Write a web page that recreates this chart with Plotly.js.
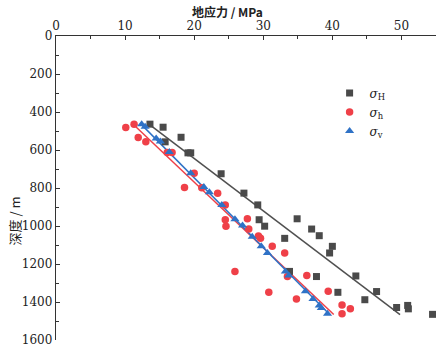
<!DOCTYPE html>
<html>
<head>
<meta charset="utf-8">
<script src="https://cdn.plot.ly/plotly-3.0.1.min.js"></script>
<style>html,body{margin:0;padding:0;background:#fff;}#chart{width:444px;height:352px;}</style>
</head>
<body>
<div id="chart"></div>
<script>
// σH (maximum horizontal stress), MPa vs depth, m
const sigmaH_x = [13.6,15.5,18.1,15.8,19.1,19.5,23.9,27.2,29.2,29.4,30.2,33.1,34.9,37.0,38.1,40.0,39.6,33.8,37.7,43.4,40.8,46.4,44.7,49.3,50.9,51.0,54.5];
const sigmaH_d = [464,480,533,557,615,615,725,827,889,967,1001,1065,962,1016,1051,1107,1142,1239,1266,1263,1349,1345,1388,1429,1418,1436,1465];
// σh (minimum horizontal stress)
const sigmah_x = [10.1,11.3,11.9,13.0,16.1,16.8,20.0,18.6,21.1,23.4,24.5,24.5,24.6,27.7,27.9,29.3,29.6,31.3,33.1,25.9,33.5,36.3,30.8,34.8,39.4,41.4,42.6,41.4];
const sigmah_d = [481,464,534,557,613,613,723,797,799,827,889,967,1001,962,1016,1053,1065,1107,1142,1239,1266,1261,1349,1384,1344,1416,1435,1462];
// σv (vertical stress)
const sigmav_x = [12.4,12.9,14.5,15.1,16.4,19.5,21.4,22.2,24.0,25.9,27.0,28.4,29.7,30.6,33.2,33.7,36.1,37.2,38.1,38.4,39.3];
const sigmav_d = [465,478,539,555,611,723,795,823,889,964,998,1056,1107,1142,1240,1261,1344,1384,1419,1431,1462];
// linear fit lines (endpoints)
const fitH_x = [13.4,49.8], fitH_d = [462,1466];
const fith_x = [11.4,40.2], fith_d = [472,1466];
const fitv_x = [12.2,39.6], fitv_d = [460,1466];

const names = ['<i>σ</i><sub>H</sub>','<i>σ</i><sub>h</sub>','<i>σ</i><sub>v</sub>'];
const cH = '#4a4a4a', ch = '#ef4048', cv = '#2f72c6';

const traces = [
  {x: fitH_x, y: fitH_d, mode:'lines', line:{color:'#505050', width:1.5}, showlegend:false, hoverinfo:'skip'},
  {x: fith_x, y: fith_d, mode:'lines', line:{color:ch, width:1.5}, showlegend:false, hoverinfo:'skip'},
  {x: fitv_x, y: fitv_d, mode:'lines', line:{color:cv, width:1.5}, showlegend:false, hoverinfo:'skip'},
  {x: sigmaH_x, y: sigmaH_d, mode:'markers', name:names[0], marker:{symbol:'square', size:7, color:cH}},
  {x: sigmah_x, y: sigmah_d, mode:'markers', name:names[1], marker:{symbol:'circle', size:7.5, color:ch}},
  {x: sigmav_x, y: sigmav_d, mode:'markers', name:names[2], marker:{symbol:'triangle-up', size:8, color:cv}}
];

const tickFont = {family:'DejaVu Serif, Liberation Serif, serif', size:12, color:'#222'};
const layout = {
  width:444, height:352,
  margin:{l:56, r:8, t:36, b:11.5, pad:0},
  paper_bgcolor:'#fff', plot_bgcolor:'#fff',
  showlegend:true,
  legend:{x:0.72, y:0.86, xanchor:'left', yanchor:'top', bgcolor:'rgba(0,0,0,0)',
          font:{family:'DejaVu Serif, Liberation Serif, serif', size:12, color:'#222'},
          itemwidth:30, tracegroupgap:0},
  xaxis:{side:'top', range:[0,55], dtick:10, tick0:0, showgrid:false, zeroline:false,
         showline:true, linecolor:'#333', linewidth:1.2, ticks:'inside', ticklen:4, tickcolor:'#333',
         minor:{dtick:5, ticks:'inside', ticklen:2.5, tickcolor:'#333'},
         tickfont:tickFont, mirror:false},
  yaxis:{range:[1600,0], dtick:200, tick0:0, showgrid:false, zeroline:false,
         showline:true, linecolor:'#333', linewidth:1.2, ticks:'inside', ticklen:4, tickcolor:'#333',
         minor:{dtick:100, ticks:'inside', ticklen:2.5, tickcolor:'#333'},
         tickfont:tickFont, mirror:false},
  annotations:[
    {text:'<b>地应力 / MPa</b>', xref:'paper', yref:'paper', x:0.45, y:1, yshift:25, xanchor:'center', yanchor:'middle', showarrow:false,
     font:{family:'Noto Sans CJK SC, sans-serif', size:12, color:'#222'}},
    {text:'深度 / m', xref:'paper', yref:'paper', x:0, xshift:-42, y:0.39, xanchor:'center', yanchor:'middle', showarrow:false, textangle:-90,
     font:{family:'Noto Sans CJK SC, sans-serif', size:13, color:'#222'}}
  ]
};
Plotly.newPlot('chart', traces, layout, {displayModeBar:false, staticPlot:true});
</script>
</body>
</html>
